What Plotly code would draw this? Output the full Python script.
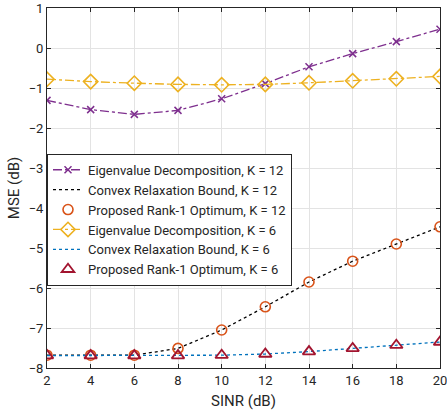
import plotly.graph_objects as go

sinr = [2, 4, 6, 8, 10, 12, 14, 16, 18, 20]
ed_k12 = [-1.31, -1.54, -1.66, -1.56, -1.27, -0.89, -0.47, -0.14, 0.16, 0.47]
bound_k12 = [-7.68, -7.68, -7.68, -7.51, -7.05, -6.47, -5.85, -5.33, -4.90, -4.47]
prop_k12 = [-7.68, -7.68, -7.68, -7.51, -7.05, -6.47, -5.85, -5.33, -4.90, -4.47]
ed_k6 = [-0.78, -0.84, -0.88, -0.91, -0.92, -0.91, -0.87, -0.82, -0.77, -0.71]
bound_k6 = [-7.69, -7.69, -7.69, -7.69, -7.68, -7.65, -7.59, -7.51, -7.43, -7.35]
prop_k6 = [-7.69, -7.69, -7.69, -7.69, -7.68, -7.65, -7.59, -7.51, -7.43, -7.35]

xticks = [2, 4, 6, 8, 10, 12, 14, 16, 18, 20]
yticks = [-8, -7, -6, -5, -4, -3, -2, -1, 0, 1]

names = ["Eigenvalue Decomposition, K = 12", "Convex Relaxation Bound, K = 12",
         "Proposed Rank-1 Optimum, K = 12", "Eigenvalue Decomposition, K = 6",
         "Convex Relaxation Bound, K = 6", "Proposed Rank-1 Optimum, K = 6"]

fig = go.Figure()
fig.add_trace(go.Scatter(x=sinr, y=ed_k12, name=names[0], mode="lines+markers",
                         line=dict(color="#7E2F8E", dash="dashdot", width=1.3),
                         marker=dict(symbol="x-thin-open", size=7, line=dict(color="#7E2F8E", width=1.5))))
fig.add_trace(go.Scatter(x=sinr, y=bound_k12, name=names[1], mode="lines",
                         line=dict(color="#000000", dash="dot", width=1.3)))
fig.add_trace(go.Scatter(x=sinr, y=prop_k12, name=names[2], mode="markers",
                         marker=dict(symbol="circle-open", size=10, color="#D95319", line=dict(color="#D95319", width=1.6))))
fig.add_trace(go.Scatter(x=sinr, y=ed_k6, name=names[3], mode="lines+markers",
                         line=dict(color="#EDB120", dash="dashdot", width=1.3),
                         marker=dict(symbol="diamond-open", size=11, color="#EDB120", line=dict(color="#EDB120", width=1.6))))
fig.add_trace(go.Scatter(x=sinr, y=bound_k6, name=names[4], mode="lines",
                         line=dict(color="#0072BD", dash="dot", width=1.3)))
fig.add_trace(go.Scatter(x=sinr, y=prop_k6, name=names[5], mode="markers",
                         marker=dict(symbol="triangle-up-open", size=11, color="#A2142F", line=dict(color="#A2142F", width=1.8))))

axis_common = dict(showline=True, linecolor="#262626", linewidth=1, mirror="ticks",
                   ticks="inside", ticklen=4, tickcolor="#262626",
                   showgrid=True, gridcolor="#E3E3E3", gridwidth=1, zeroline=False,
                   ticklabeloverflow="allow",
                   tickfont=dict(family="Roboto", size=13, color="#262626"),
                   title_font=dict(family="Roboto", size=15, color="#262626"))

fig.update_xaxes(range=[2, 20], tickvals=xticks, title_text="SINR (dB)", title_standoff=8, **axis_common)
fig.update_yaxes(range=[-8, 1], tickvals=yticks, title_text="MSE (dB)", title_standoff=5, **axis_common)

fig.update_layout(width=447, height=419, margin=dict(l=47, r=7, t=8, b=51, autoexpand=False),
                  plot_bgcolor="white", paper_bgcolor="white",
                  font=dict(family="Roboto", color="#262626"),
                  legend=dict(x=0, y=0.595, xanchor="left", yanchor="top",
                              bgcolor="white", bordercolor="#262626", borderwidth=1,
                              font=dict(family="Roboto", size=13, color="#262626"),
                              tracegroupgap=0))

fig.write_html("out.html", config={"displayModeBar": False},
               post_script="document.body.style.margin='0px';")
